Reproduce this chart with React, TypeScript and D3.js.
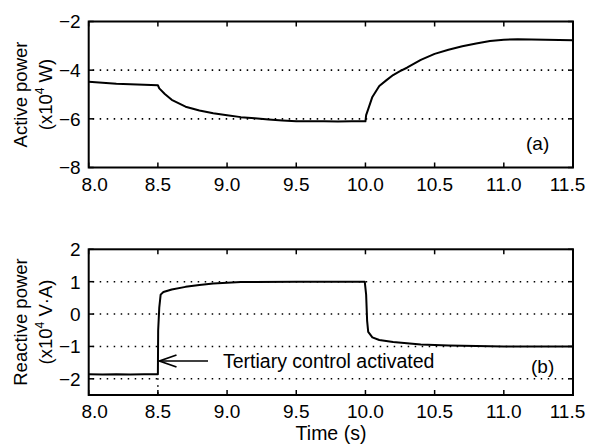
import * as d3 from 'd3';

const timeTicks = [8.0, 8.5, 9.0, 9.5, 10.0, 10.5, 11.0, 11.5];
const activeTicks = [-2, -4, -6, -8];
const reactiveTicks = [2, 1, 0, -1, -2];
const activeGrid = [-4, -6];
const reactiveGrid = [1, 0, -1, -2];

// active power (x10^4 W)
const activeT = [8.0, 8.1, 8.2, 8.3, 8.4, 8.5, 8.51, 8.55, 8.6, 8.7, 8.8, 8.9, 9.0, 9.1, 9.2, 9.3, 9.4, 9.5, 9.6, 9.7, 9.8, 9.9, 10.0, 10.005, 10.02, 10.05, 10.1, 10.15, 10.2, 10.25, 10.3, 10.4, 10.5, 10.6, 10.7, 10.8, 10.9, 11.0, 11.1, 11.2, 11.3, 11.4, 11.5];
const activeP = [-4.48, -4.52, -4.56, -4.58, -4.6, -4.62, -4.75, -4.98, -5.22, -5.5, -5.66, -5.77, -5.85, -5.93, -5.98, -6.03, -6.07, -6.1, -6.1, -6.1, -6.11, -6.1, -6.1, -5.85, -5.6, -5.1, -4.65, -4.42, -4.2, -4.04, -3.9, -3.58, -3.33, -3.16, -3.02, -2.9, -2.8, -2.75, -2.73, -2.74, -2.75, -2.76, -2.77];

// reactive power (x10^4 V·A)
const reactiveT = [8.0, 8.1, 8.2, 8.3, 8.4, 8.5, 8.502, 8.51, 8.52, 8.54, 8.6, 8.7, 8.8, 8.9, 9.0, 9.1, 9.5, 9.995, 10.005, 10.012, 10.02, 10.05, 10.1, 10.2, 10.3, 10.4, 10.6, 10.8, 11.0, 11.5];
const reactiveQ = [-1.86, -1.87, -1.86, -1.87, -1.86, -1.86, -0.5, 0.2, 0.6, 0.68, 0.76, 0.84, 0.9, 0.94, 0.97, 0.99, 1.0, 1.0, 0.6, -0.2, -0.55, -0.72, -0.8, -0.86, -0.9, -0.94, -0.97, -0.99, -1.0, -1.0];

const activation = 8.5;

const font = 'Liberation Sans, Arial, sans-serif';
const L = 88.7, R = 573;
const x = d3.scaleLinear().domain([8, 11.5]).range([L, R]);

function Panel({ top, bottom, domain, ticks, grid, t, v, tag, tagX, tagY, children }: any) {
  const y = d3.scaleLinear().domain(domain).range([bottom, top]);
  const line = d3.line<number>().x((_, i) => x(t[i])).y((d) => y(d));
  const tl = 5;
  const n = timeTicks.length;
  return (
    <g>
      {grid.map((g: number) => (
        <line key={'g' + g} x1={L + 4} x2={R - 4} y1={y(g)} y2={y(g)} stroke="#000" strokeWidth={1.6} strokeDasharray="1.5,5.5" />
      ))}
      {children ? children(y) : null}
      <path d={line(v) || ''} fill="none" stroke="#000" strokeWidth={2} strokeLinejoin="round" />
      <rect x={L} y={top} width={R - L} height={bottom - top} fill="none" stroke="#000" strokeWidth={2} />
      {timeTicks.map((tk, i) => (
        <g key={'x' + tk}>
          <line x1={x(tk)} x2={x(tk)} y1={bottom} y2={bottom - tl} stroke="#000" strokeWidth={1.5} />
          <line x1={x(tk)} x2={x(tk)} y1={top} y2={top + tl} stroke="#000" strokeWidth={1.5} />
          <text x={x(tk) + (i === 0 ? 6 : i === n - 1 ? -5.5 : 0)} y={bottom + 23} textAnchor="middle" fontSize={19} fontFamily={font}>{tk.toFixed(1)}</text>
        </g>
      ))}
      {ticks.map((tk: number) => (
        <g key={'y' + tk}>
          <line x1={L} x2={L + tl} y1={y(tk)} y2={y(tk)} stroke="#000" strokeWidth={1.5} />
          <line x1={R} x2={R - tl} y1={y(tk)} y2={y(tk)} stroke="#000" strokeWidth={1.5} />
          <text x={L - 8} y={y(tk)} dy="0.36em" textAnchor="end" fontSize={19} fontFamily={font}>{tk < 0 ? '\u2212' + Math.abs(tk) : String(tk)}</text>
        </g>
      ))}
      <text x={tagX} y={tagY} fontSize={19} fontFamily={font}>{tag}</text>
    </g>
  );
}

export default function App() {
  return (
    <svg width={589} height={444} style={{ position: 'absolute', left: 0, top: 0, background: '#fff' }}>
      <Panel top={21.5} bottom={167.5} domain={[-8, -2]} ticks={activeTicks} grid={activeGrid} t={activeT} v={activeP} tag="(a)" tagX={526} tagY={150} />
      <Panel top={249.3} bottom={395} domain={[-2.5, 2]} ticks={reactiveTicks} grid={reactiveGrid} t={reactiveT} v={reactiveQ} tag="(b)" tagX={531} tagY={373}>
        {(y: any) => (
          <line x1={x(activation)} x2={x(activation)} y1={y(reactiveQ[0]) + 4} y2={395} stroke="#000" strokeWidth={1.6} strokeDasharray="1.5,5.5" />
        )}
      </Panel>
      <g transform="translate(0,94.5) rotate(-90)" fontFamily={font} fontSize={18.5} textAnchor="middle">
        <text x={0} y={26.5}>Active power</text>
        <text x={0} y={51.5}>(x10<tspan fontSize={12} dy={-7.5}>4</tspan><tspan dy={7.5}> W)</tspan></text>
      </g>
      <g transform="translate(0,322) rotate(-90)" fontFamily={font} fontSize={18.5} textAnchor="middle">
        <text x={0} y={26.5}>Reactive power</text>
        <text x={0} y={51.5}>(x10<tspan fontSize={12} dy={-7.5}>4</tspan><tspan dy={7.5}> V·A)</tspan></text>
      </g>
      <text x={331} y={440} textAnchor="middle" fontSize={19.5} fontFamily={font}>Time (s)</text>
      <line x1={160} x2={208} y1={361} y2={361} stroke="#000" strokeWidth={1.5} />
      <path d="M176.5,355 L159.5,361 L176.5,367" fill="none" stroke="#000" strokeWidth={1.8} />
      <text x={223} y={368} fontSize={19.5} fontFamily={font}>Tertiary control activated</text>
    </svg>
  );
}
